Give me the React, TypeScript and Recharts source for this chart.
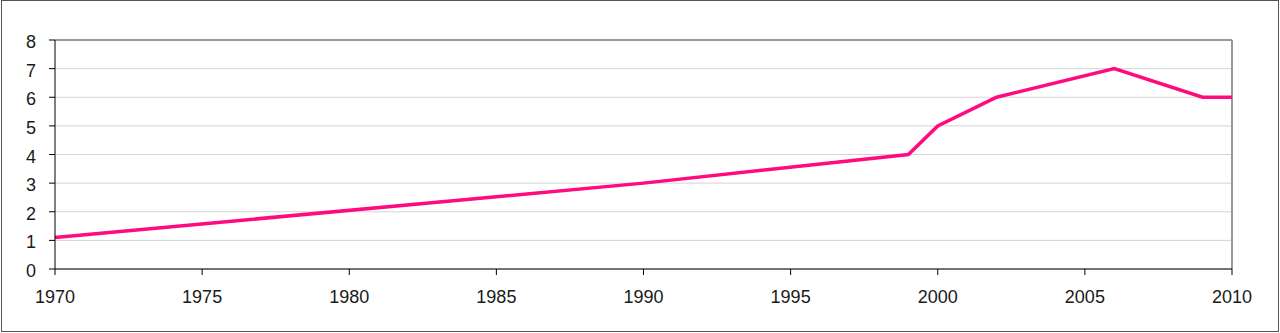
import { LineChart, Line, XAxis, YAxis, CartesianGrid, ReferenceLine } from "recharts";

const years = [1970, 1990, 1999, 2000, 2002, 2006, 2009, 2010];
const values = [1.1, 3, 4, 5, 6, 7, 6, 6];
const xTicks = [1970, 1975, 1980, 1985, 1990, 1995, 2000, 2005, 2010];
const yTicks = [0, 1, 2, 3, 4, 5, 6, 7, 8];

const data = years.map((year, i) => ({ year, value: values[i] }));

const FONT = "'Liberation Sans', Arial, sans-serif";

function XTick(props: any) {
  const { x, y, payload } = props;
  return (
    <text x={x} y={y + 28} textAnchor="middle" fontFamily={FONT} fontSize={18} fill="#1a1a1a">
      {payload.value}
    </text>
  );
}

function YTick(props: any) {
  const { x, y, payload } = props;
  return (
    <text x={x - 1} y={y + 8} textAnchor="end" fontFamily={FONT} fontSize={18} fill="#1a1a1a">
      {payload.value}
    </text>
  );
}

export default function App() {
  return (
    <div style={{ position: "absolute", left: 0, top: 0, width: 1280, height: 333, background: "#fff" }}>
      <LineChart width={1280} height={333} data={data} margin={{ top: 40, right: 48, bottom: 0, left: 0 }}>
        <CartesianGrid vertical={false} stroke="#d4d4d4" strokeWidth={1} />
        <XAxis
          dataKey="year"
          type="number"
          domain={[1970, 2010]}
          ticks={xTicks}
          height={64}
          stroke="#000"
          tickSize={6}
          tickMargin={0}
          tick={<XTick />}
          interval={0}
        />
        <YAxis
          domain={[0, 8]}
          ticks={yTicks}
          width={55}
          stroke="#000"
          tickSize={6}
          tickMargin={12}
          tick={<YTick />}
          interval={0}
        />
        <ReferenceLine y={8} stroke="#999" strokeWidth={2} />
        <ReferenceLine x={2010} stroke="#999" strokeWidth={2} />
        <Line
          type="linear"
          dataKey="value"
          stroke="#ff0a80"
          strokeWidth={3.5}
          dot={false}
          isAnimationActive={false}
        />
      </LineChart>
      <div
        style={{
          position: "absolute",
          left: 1,
          top: 0,
          width: 1278,
          height: 332,
          boxSizing: "border-box",
          border: "1px solid #555",
          pointerEvents: "none",
        }}
      />
    </div>
  );
}
